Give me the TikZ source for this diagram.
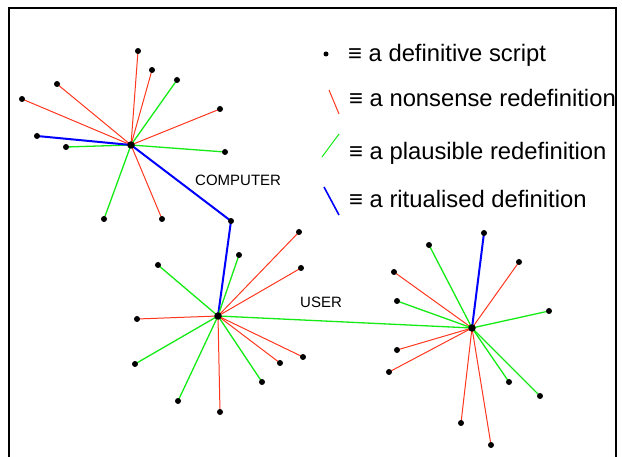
\documentclass[tikz,border=0pt]{standalone}
\usepackage{fontspec}
\setmainfont{Liberation Sans}
\definecolor{nred}{RGB}{255,55,30}
\definecolor{pgreen}{RGB}{20,235,20}
\definecolor{rblue}{RGB}{0,0,255}
\pgfdeclarelayer{bg}
\pgfsetlayers{bg,main}
\tikzset{
  dot/.style={circle,fill=black,inner sep=0pt,minimum size=6pt},
  hub/.style={circle,fill=black,inner sep=0pt,minimum size=7.5pt},
  nonsense/.style={draw=nred,line width=1pt},
  plausible/.style={draw=pgreen,line width=1.3pt},
  ritual/.style={draw=rblue,line width=2pt},
  lbl/.style={font=\fontsize{15}{18}\selectfont,anchor=west,inner sep=0pt},
  legtext/.style={font=\fontsize{23.8}{28}\selectfont,anchor=base west,inner sep=0pt}
}
\begin{document}
\begin{tikzpicture}[x=1pt,y=-1pt]
\useasboundingbox (0,0) rectangle (622,457);
\draw[line width=2pt] (9,457) -- (9,8) -- (616,8) -- (616,457);
% computer cluster
\node[hub] (C) at (131,145) {};
\node[dot] (c1) at (138,51) {};
\node[dot] (c2) at (152,70) {};
\node[dot] (c3) at (177,80) {};
\node[dot] (c4) at (57,84) {};
\node[dot] (c5) at (22,99) {};
\node[dot] (c6) at (220,109) {};
\node[dot] (c7) at (66,147) {};
\node[dot] (c8) at (225,152) {};
\node[dot] (c9) at (37,136) {};
\node[dot] (c10) at (104,219) {};
\node[dot] (c11) at (162,219) {};
\node[dot] (L) at (231,221) {};
% user cluster
\node[hub] (U) at (218,316) {};
\node[dot] (u1) at (299,232) {};
\node[dot] (u2) at (239,255) {};
\node[dot] (u3) at (158,265) {};
\node[dot] (u4) at (301,268) {};
\node[dot] (u5) at (137,319) {};
\node[dot] (u6) at (303,357) {};
\node[dot] (u7) at (280,363) {};
\node[dot] (u8) at (135,364) {};
\node[dot] (u9) at (262,382) {};
\node[dot] (u10) at (178,401) {};
\node[dot] (u11) at (220,412) {};
% right cluster
\node[hub] (R) at (472,328) {};
\node[dot] (r1) at (484,233) {};
\node[dot] (r2) at (429,245) {};
\node[dot] (r3) at (519,262) {};
\node[dot] (r4) at (394,272) {};
\node[dot] (r5) at (397,301) {};
\node[dot] (r6) at (549,311) {};
\node[dot] (r7) at (397,350) {};
\node[dot] (r8) at (389,372) {};
\node[dot] (r9) at (509,382) {};
\node[dot] (r10) at (540,396) {};
\node[dot] (r11) at (461,423) {};
\node[dot] (r12) at (491,445) {};
\begin{pgfonlayer}{bg}
\foreach \n in {c1,c2,c4,c5,c6,c11} \draw[nonsense] (C.center) -- (\n.center);
\foreach \n in {c3,c7,c8,c10} \draw[plausible] (C.center) -- (\n.center);
\draw[ritual] (c9.center) -- (C.center) -- (L.center) -- (U.center);
\foreach \n in {u1,u4,u5,u6,u7,u11} \draw[nonsense] (U.center) -- (\n.center);
\foreach \n in {u2,u3,u8,u9,u10} \draw[plausible] (U.center) -- (\n.center);
\draw[plausible] (U.center) -- (R.center);
\foreach \n in {r3,r4,r7,r8,r11,r12} \draw[nonsense] (R.center) -- (\n.center);
\foreach \n in {r2,r5,r6,r9,r10} \draw[plausible] (R.center) -- (\n.center);
\draw[ritual] (R.center) -- (r1.center);
\end{pgfonlayer}
\node[lbl] (comp) at (195,180.5) {COMPUTER};
\node[lbl] (user) at (300,302.5) {USER};
% legend
\node[circle,fill=black,inner sep=0pt,minimum size=5pt] (kdot) at (326,54) {};
\coordinate (kr1) at (329,90); \coordinate (kr2) at (339,114);
\coordinate (kg1) at (339,134); \coordinate (kg2) at (322,157);
\coordinate (kb1) at (324,187); \coordinate (kb2) at (339,215);
\draw[nonsense] (kr1) -- (kr2);
\draw[plausible,line width=1pt] (kg1) -- (kg2);
\draw[ritual,line width=1.6pt] (kb1) -- (kb2);
\node[legtext] (t1) at (348,62) {≡ a definitive script};
\node[legtext] (t2) at (349,107) {≡ a nonsense redefinition};
\node[legtext] (t3) at (349,160) {≡ a plausible redefinition};
\node[legtext] (t4) at (349,208) {≡ a ritualised definition};
\end{tikzpicture}
\end{document}
